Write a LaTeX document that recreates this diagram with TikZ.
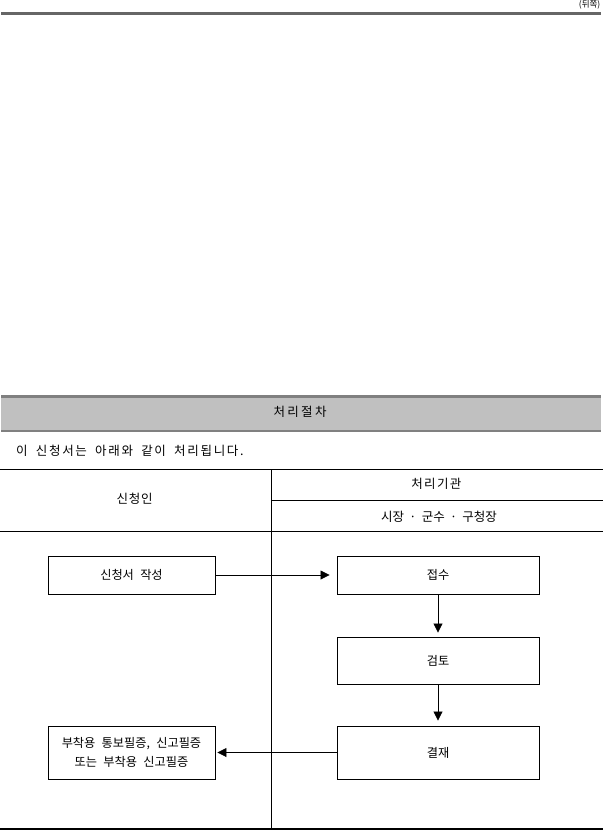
\documentclass[tikz,border=0pt]{standalone}
\usepackage{fontspec}
\setmainfont{Noto Sans CJK KR}
\usetikzlibrary{arrows.meta}
\ExplSyntaxOn
\NewDocumentCommand\lsp{mm}{
  \seq_set_split:Nnn \l_tmpa_seq {~} {#2}
  \seq_map_indexed_inline:Nn \l_tmpa_seq {
    \int_compare:nT {##1>1}{\space}
    \tl_map_inline:nn {##2}{####1\kern #1}
  }
}
\ExplSyntaxOff
\newcommand\mdot{\hspace{7.3pt}\makebox[3pt]{·}\hspace{7.3pt}}
\newcommand\boxspacing{\spaceskip 6.3pt\relax}
\newcommand\introspacing{\spaceskip 6.5pt\relax}
\definecolor{bandgray}{HTML}{C0C0C0}
\definecolor{linegray}{HTML}{666666}
\definecolor{bandline}{HTML}{808080}
\tikzset{
  stepbox/.style={draw=black, line width=0.9pt, rectangle, inner sep=0pt, align=center, font=\fontsize{12.2}{19}\selectfont\boxspacing},
  flow/.style={draw=black, line width=0.8pt, -{Triangle[length=9pt,width=9pt]}},
  tline/.style={draw=black, line width=0.9pt},
  lbl/.style={inner sep=0pt, font=\fontsize{12.5}{14}\selectfont}
}
\begin{document}
\begin{tikzpicture}[x=1pt,y=-1pt]
\useasboundingbox (0,0) rectangle (603,830);
% top line and page note
\fill[linegray] (1,12) rectangle (601,15);
\node[inner sep=0pt, anchor=east, font=\fontsize{8.5}{9}\selectfont] (note) at (600.5,5) {(뒤쪽)};
% band
\fill[bandgray] (1,396) rectangle (601,431);
\fill[bandline] (1,394.5) rectangle (601,397.5);
\draw[bandline, line width=1.2pt] (1,431) -- (601,431);
\node[lbl] (title) at (301.2,412) {\lsp{2.3pt}{처리절차}};
\node[lbl, anchor=west, font=\fontsize{12.5}{14}\selectfont\introspacing] (intro) at (16,451) {\lsp{1.7pt}{이 신청서는 아래와 같이 처리됩니다.}};
% table
\draw[tline] (0,469) -- (603,469);
\draw[tline] (271.5,469) -- (271.5,829);
\draw[tline] (271.5,500) -- (603,500);
\draw[tline] (0,531) -- (603,531);
\draw[black, line width=1.3pt] (0,829) -- (603,829);
\node[lbl] (applicant) at (135,499) {\lsp{0.7pt}{신청인}};
\node[lbl] (agency) at (437,484) {\lsp{1.3pt}{처리기관}};
\node[lbl] (mayor) at (439,517) {시장\mdot 군수\mdot 구청장};
% boxes
\node[stepbox, minimum width=167pt, minimum height=38pt] (write) at (131.5,575) {신청서 작성};
\node[stepbox, minimum width=202pt, minimum height=38pt] (receive) at (438,575) {접수};
\node[stepbox, minimum width=202pt, minimum height=47pt] (review) at (438,660.5) {검토};
\node[stepbox, minimum width=202pt, minimum height=53pt] (approve) at (438,752.5) {결재};
\node[stepbox, minimum width=167pt, minimum height=53pt] (cert) at (131.5,752.5) {부착용 통보필증, 신고필증\\또는 부착용 신고필증};
% arrows
\draw[flow, shorten >=7pt] (write.east) -- (receive.west);
\draw[flow, shorten >=4pt] (receive.south) -- (review.north);
\draw[flow, shorten >=5pt] (review.south) -- (approve.north);
\draw[flow, shorten >=2pt] (approve.west) -- (cert.east);
\end{tikzpicture}
\end{document}
